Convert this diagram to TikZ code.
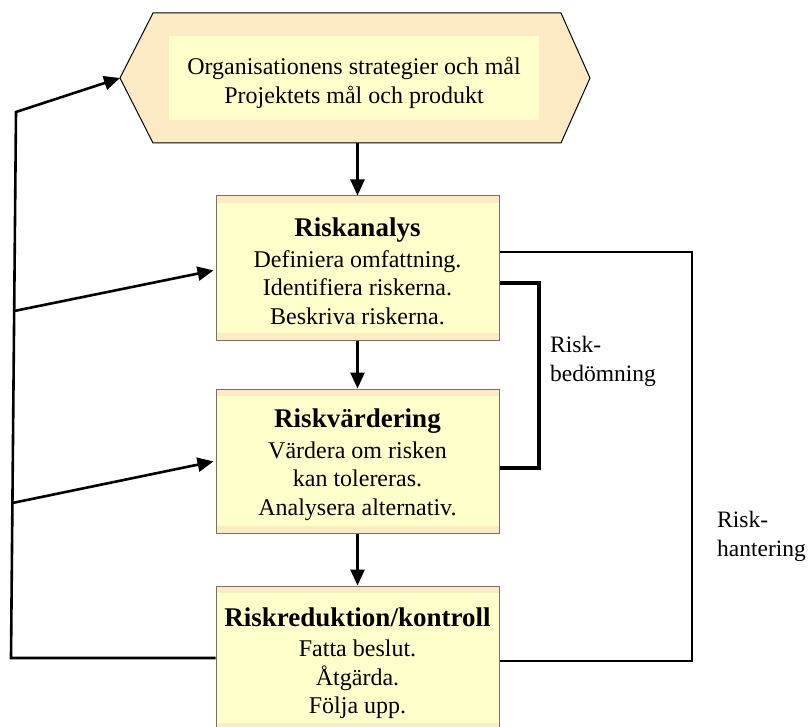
\documentclass[tikz,border=0pt]{standalone}
\usepackage{fontspec}
\setmainfont{Liberation Serif}
\usetikzlibrary{arrows.meta}
\definecolor{boxfill}{HTML}{FFFFCC}
\definecolor{peach}{HTML}{FCEBC5}
\definecolor{boxline}{HTML}{7A7060}
\begin{document}
\begin{tikzpicture}[x=1pt,y=-1pt,
  stagebox/.style={draw=boxline, line width=1pt, fill=boxfill, minimum width=283pt, minimum height=144pt,
    inner sep=0pt,
    path picture={
      \fill[peach] (path picture bounding box.north west) rectangle ([yshift=-7pt]path picture bounding box.north east);
      \fill[peach] (path picture bounding box.south west) rectangle ([yshift=7pt]path picture bounding box.south east);
    }},
  stagetext/.style={inner sep=0pt, align=center, font=\fontsize{24}{28.5}\selectfont},
  ttl/.style={font=\fontsize{27}{30}\selectfont\bfseries},
  arr/.style={line width=2.6pt, -{Triangle[length=16pt,width=14pt]}},
  loopline/.style={line width=2.6pt},
  bracket/.style={line width=3.2pt},
  mgmt/.style={line width=2pt},
  lbl/.style={align=left, anchor=west, inner sep=0pt, font=\fontsize{23.5}{29}\selectfont}
]
\useasboundingbox (0,0) rectangle (811,727);

% hexagon
\coordinate (hexL) at (120,78);
\coordinate (hexB) at (357.5,143);
\draw[fill=peach, line width=1pt] (153,13) -- (561,13) -- (590,78) -- (561,143) -- (153,143) -- (hexL) -- cycle;
\node[fill=boxfill, minimum width=370pt, minimum height=84pt, inner sep=0pt] (goal) at (354,78) {};
\node[inner sep=0pt, align=center, font=\fontsize{24}{28.5}\selectfont] (goalT) at (354,83)
  {Organisationens strategier och mål\\Projektets mål och produkt};

% stage boxes
\node[stagebox] (ana) at (357.5,268) {};
\node[stagetext] (anaT) at (357.5,271.5) {{\fontsize{27}{30}\selectfont\bfseries Riskanalys}\\[2pt]Definiera omfattning.\\Identifiera riskerna.\\Beskriva riskerna.};
\node[stagebox] (vard) at (357.5,461) {};
\node[stagetext] (vardT) at (357.5,464.5) {{\fontsize{27}{30}\selectfont\bfseries Riskvärdering}\\[2pt]Värdera om risken\\kan tolereras.\\Analysera alternativ.};
\node[stagebox] (red) at (357.5,658) {};
\node[stagetext] (redT) at (357.5,663) {{\fontsize{27}{30}\selectfont\bfseries Riskreduktion/kontroll}\\[2pt]Fatta beslut.\\Åtgärda.\\Följa upp.};

% main flow
\draw[arr] (hexB) -- (ana.north);
\draw[arr] (ana.south) -- (vard.north);
\draw[arr] (vard.south) -- (red.north);

% feedback loop on the left
\coordinate (Lbot) at (11,658);
\coordinate (Ltop) at (16,112);
\coordinate (B1) at (14.2,311);
\coordinate (B2) at (12.4,503);
\draw[loopline, -{Triangle[length=16pt,width=14pt]}] (red.west) -- (Lbot) -- (Ltop) -- (hexL);
\draw[arr, shorten >=2pt] (B1) -- ([yshift=-2pt]ana.west);
\draw[arr, shorten >=2pt] (B2) -- (vard.west);

% Riskbedömning bracket
\coordinate (bedTop) at (539,283);
\draw[bracket] ([yshift=-15pt]ana.east) -- (bedTop) |- ([yshift=-7pt]vard.east);
\node[lbl] (bed) at (550,361) {Risk-\\bedömning};

% Riskhantering bracket
\coordinate (hanTop) at (692,252);
\draw[mgmt] ([yshift=16pt]ana.east) -- (hanTop) |- ([yshift=-3pt]red.east);
\node[lbl] (han) at (717,536) {Risk-\\hantering};
\end{tikzpicture}
\end{document}
